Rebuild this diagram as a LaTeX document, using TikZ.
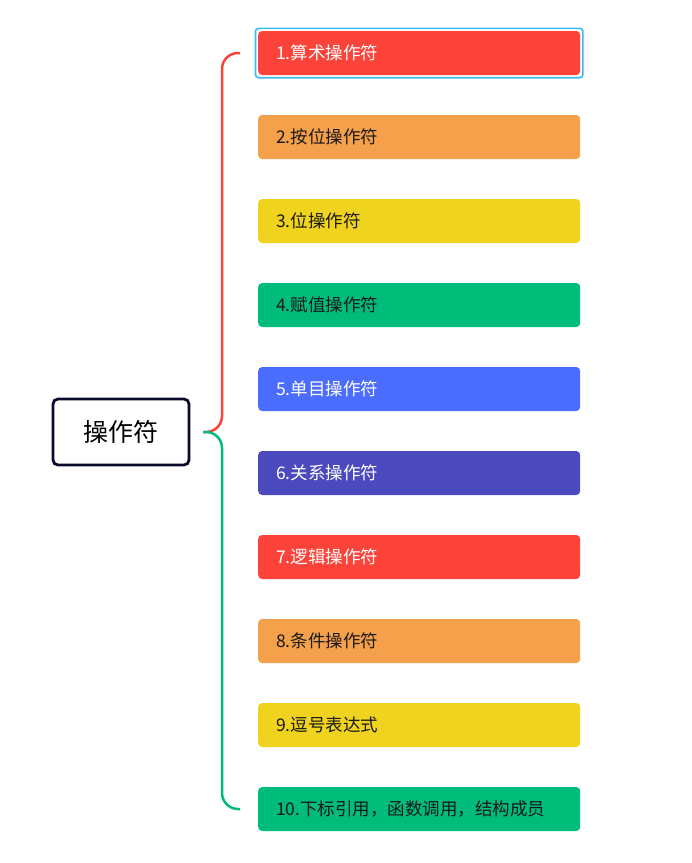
\documentclass[tikz,border=0pt]{standalone}
\usepackage{fontspec}
\setmainfont{Noto Sans CJK SC}
\definecolor{opred}{HTML}{FC4339}
\definecolor{oporange}{HTML}{F5A04A}
\definecolor{opyellow}{HTML}{F0D31F}
\definecolor{opgreen}{HTML}{00BC7A}
\definecolor{opblue}{HTML}{4A6CFF}
\definecolor{opindigo}{HTML}{4B49BD}
\definecolor{optext}{HTML}{1A1A1A}
\definecolor{rootline}{HTML}{0A0A2A}
\definecolor{focus}{HTML}{3DB8F5}
\tikzset{
  leaf/.style={rounded corners=4pt, inner xsep=18pt, inner ysep=0pt, text width=286pt,
    align=left, minimum height=44pt, anchor=west, font=\fontsize{17.5}{20}\selectfont},
  rootbox/.style={draw=rootline, line width=2.8pt, rounded corners=5pt, fill=white,
    minimum width=136pt, minimum height=66pt, font=\fontsize{25}{28}\selectfont},
  brace/.style={line width=2.5pt, rounded corners=16pt}
}
\begin{document}
\begin{tikzpicture}[x=1pt,y=-1pt]
  \useasboundingbox (0,0) rectangle (692,863);
  % root
  \node[rootbox] (root) at (121,432) {操作符};
  % leaves
  \foreach \i/\txt/\fc/\tc in {1/{1.算术操作符}/opred/white,
      2/{2.按位操作符}/oporange/optext,
      3/{3.位操作符}/opyellow/optext,
      4/{4.赋值操作符}/opgreen/optext,
      5/{5.单目操作符}/opblue/white,
      6/{6.关系操作符}/opindigo/white,
      7/{7.逻辑操作符}/opred/white,
      8/{8.条件操作符}/oporange/optext,
      9/{9.逗号表达式}/opyellow/optext,
      10/{10.下标引用，函数调用，结构成员}/opgreen/optext}
    \node[leaf, fill=\fc, text=\tc] (b\i) at (258,{53+84*(\i-1)}) {\txt};
  % focus frame round the first leaf
  \draw[focus, line width=1.6pt, rounded corners=3pt]
    ([shift={(-2.5pt,2.5pt)}]b1.north west) rectangle ([shift={(2.5pt,-2.5pt)}]b1.south east);
  % braces
  \coordinate (fork) at ([xshift=13pt]root.east);
  \draw[brace, opred] (fork) -| (222,53) -- ([xshift=-18pt]b1.west);
  \draw[brace, opgreen] (fork) -| (222,809) -- ([xshift=-18pt]b10.west);
\end{tikzpicture}
\end{document}
